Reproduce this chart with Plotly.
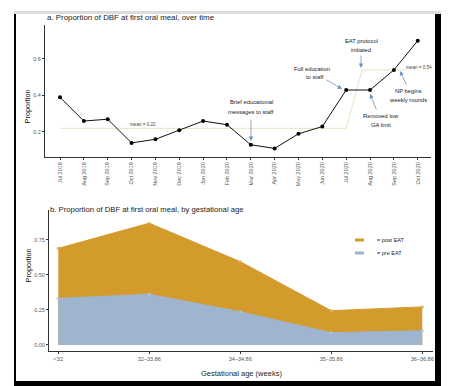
import plotly.graph_objects as go

# ---------------- data ----------------
months = ["Jul 2019", "Aug 2019", "Sep 2019", "Oct 2019", "Nov 2019", "Dec 2019",
          "Jan 2020", "Feb 2020", "Mar 2020", "Apr 2020", "May 2020", "Jun 2020",
          "Jul 2020", "Aug 2020", "Sep 2020", "Oct 2020"]
prop_dbf = [0.39, 0.26, 0.27, 0.14, 0.16, 0.21, 0.26, 0.24, 0.13, 0.11, 0.19, 0.23,
            0.43, 0.43, 0.54, 0.70]
mean_x = [0, 12, 12.67, 15]
mean_y = [0.22, 0.22, 0.54, 0.54]

ga_groups = ["<32", "32\u201333.86", "34\u201334.86", "35\u201335.86", "36\u201336.86"]
post_eat = [0.69, 0.87, 0.595, 0.245, 0.272]
pre_eat = [0.333, 0.362, 0.238, 0.088, 0.102]

W, H = 461, 386
def px(x):
    return x / W
def py(y):
    return 1 - y / H

FONT = "Liberation Sans, Arial, sans-serif"
ORANGE = "#d39a2c"
BLUE = "#9fb4ce"
ARROW = "#6e93bd"

fig = go.Figure()

# ---- panel a ----
fig.add_trace(go.Scatter(x=mean_x, y=mean_y, mode="lines",
                         line=dict(color="#e3e6c2", width=1), xaxis="x", yaxis="y",
                         showlegend=False, hoverinfo="skip"))
fig.add_trace(go.Scatter(x=list(range(len(months))), y=prop_dbf, mode="lines+markers",
                         line=dict(color="#111111", width=1),
                         marker=dict(color="#000000", size=4),
                         xaxis="x", yaxis="y", showlegend=False))

# ---- panel b ----
fig.add_trace(go.Scatter(x=list(range(len(ga_groups))), y=post_eat, mode="lines+markers",
                         fill="tozeroy", fillcolor=ORANGE,
                         line=dict(color=ORANGE, width=1),
                         marker=dict(color="#dcae55", size=3),
                         xaxis="x2", yaxis="y2", name="post EAT", showlegend=False))
fig.add_trace(go.Scatter(x=list(range(len(ga_groups))), y=pre_eat, mode="lines+markers",
                         fill="tozeroy", fillcolor=BLUE,
                         line=dict(color=BLUE, width=1),
                         marker=dict(color="#b0c2d8", size=3),
                         xaxis="x2", yaxis="y2", name="pre EAT", showlegend=False))

axis_common = dict(showgrid=False, zeroline=False, showline=True, linecolor="#333333",
                   linewidth=1, ticks="outside", ticklen=2, tickcolor="#333333",
                   tickfont=dict(family=FONT, size=5.5, color="#555555"))

fig.update_layout(
    width=W, height=H,
    margin=dict(l=0, r=0, t=0, b=0),
    paper_bgcolor="white", plot_bgcolor="white",
    showlegend=False,
    xaxis=dict(domain=[px(45), px(431)], range=[-0.629, 15.556], anchor="y",
               tickmode="array", tickvals=list(range(len(months))), ticktext=months,
               tickangle=-90, **axis_common),
    yaxis=dict(domain=[py(157), py(25)], range=[0.063, 0.786], anchor="x",
               tickmode="array", tickvals=[0.2, 0.4, 0.6], ticktext=["0.2", "0.4", "0.6"],
               **axis_common),
    xaxis2=dict(domain=[px(49), px(433)], range=[-0.102, 4.118], anchor="y2",
                tickmode="array", tickvals=list(range(len(ga_groups))), ticktext=ga_groups,
                **axis_common),
    yaxis2=dict(domain=[py(351), py(210)], range=[-0.043, 0.964], anchor="x2",
                tickmode="array", tickvals=[0, 0.25, 0.5, 0.75],
                ticktext=["0.00", "0.25", "0.50", "0.75"], **axis_common),
)

ann = []
def text(x, y, s, size=5.8, color="#222222", xanchor="center", bg=None):
    d = dict(x=px(x), y=py(y), xref="paper", yref="paper", text=s, showarrow=False,
             xanchor=xanchor, yanchor="middle",
             font=dict(family=FONT, size=size, color=color))
    if bg:
        d["bgcolor"] = bg
        d["borderpad"] = 0
    ann.append(d)

def arrow(tx, ty, hx, hy):
    ann.append(dict(x=px(hx), y=py(hy), xref="paper", yref="paper", text="",
                    showarrow=True, ax=tx - hx, ay=ty - hy, axref="pixel", ayref="pixel",
                    arrowhead=2, arrowsize=1.1, arrowwidth=0.8, arrowcolor=ARROW))

# titles
text(45, 17, "a. Proportion of DBF at first oral meal, over time", size=7.9, xanchor="left")
text(48, 209, "b. Proportion of DBF at first oral meal, by gestational age", size=7.7, xanchor="left")
# axis titles
ann.append(dict(x=px(20), y=py(88), xref="paper", yref="paper", text="Proportion",
                showarrow=False, textangle=-90, font=dict(family=FONT, size=7.4, color="#111111")))
ann.append(dict(x=px(21), y=py(285), xref="paper", yref="paper", text="Proportion",
                showarrow=False, textangle=-90, font=dict(family=FONT, size=7.4, color="#111111")))
text(241, 373, "Gestational age (weeks)", size=7.5)

# mean labels
text(143, 124.5, "mean = 0.22", size=4.6, color="#444444")
text(419, 68, "mean = 0.54", size=4.6, color="#444444", bg="white")

# event annotations
text(251, 102, "Brief educational")
text(251, 112.5, "messages to staff")
arrow(251, 118, 251, 141)
text(312, 69, "Full education")
text(315, 77, "to staff")
arrow(325, 79, 342, 89)
text(361, 41.5, "EAT protocol")
text(361, 49.5, "initiated")
arrow(361, 54, 361, 68)
text(381, 116.5, "Removed low")
text(381, 124.5, "GA limit")
arrow(377, 111, 370, 94)
text(408, 91.5, "NP begins")
text(408, 99.5, "weekly rounds")
arrow(407, 86, 400, 71)

# legend (manual)
text(375, 240, "= post EAT", size=5.5, xanchor="left")
text(375, 253, "= pre EAT", size=5.5, xanchor="left")

shapes = [
    dict(type="line", xref="paper", yref="paper", x0=px(355), x1=px(364), y0=py(240), y1=py(240),
         line=dict(color=ORANGE, width=3)),
    dict(type="line", xref="paper", yref="paper", x0=px(355), x1=px(364), y0=py(253), y1=py(253),
         line=dict(color=BLUE, width=3)),
    # frame
    dict(type="rect", xref="paper", yref="paper", x0=px(14), x1=px(441), y0=py(14), y1=py(11),
         fillcolor="#dcdcdc", line=dict(width=0), layer="above"),
    dict(type="rect", xref="paper", yref="paper", x0=px(14), x1=px(16), y0=py(386), y1=py(14),
         fillcolor="#000000", line=dict(width=0), layer="above"),
    dict(type="rect", xref="paper", yref="paper", x0=px(435), x1=px(441), y0=py(386), y1=py(14),
         fillcolor="#000000", line=dict(width=0), layer="above"),
    dict(type="rect", xref="paper", yref="paper", x0=px(14), x1=px(441), y0=py(386), y1=py(381),
         fillcolor="#000000", line=dict(width=0), layer="above"),
]

fig.update_layout(annotations=ann, shapes=shapes)
fig.write_html("out.html", config={"displayModeBar": False},
               post_script="document.body.style.margin='0';document.body.style.overflow='hidden';")
